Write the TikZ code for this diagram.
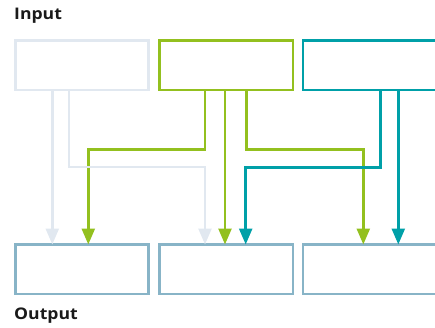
\documentclass[tikz,border=0pt]{standalone}
\usepackage{fontspec}
\newfontfamily\lblfont[FakeStretch=1.1]{Open Sans}
\usetikzlibrary{arrows.meta}
\definecolor{lgray}{HTML}{E1E8F0}
\definecolor{lgreen}{HTML}{93C01F}
\definecolor{lteal}{HTML}{00A0A8}
\definecolor{outc}{HTML}{88B4C7}
\definecolor{txt}{HTML}{1A1A1A}
\begin{document}
\begin{tikzpicture}[x=1pt,y=-1pt,
  box/.style={draw,line width=2.5pt,rectangle,inner sep=0pt,outer sep=0pt,minimum width=133.4pt,minimum height=49.5pt},
  conn/.style={line width=2.5pt,-{Triangle[length=16pt,width=13pt]}},
  lbl/.style={inner sep=0pt,anchor=base west,text=txt,font=\lblfont\bfseries\fontsize{16pt}{18pt}\selectfont}]
\useasboundingbox (0,0) rectangle (435,327);
\clip (0,0) rectangle (435,327);
% input boxes
\node[box,draw=lgray]  (in1) at (82,65.25) {};
\node[box,draw=lgreen] (in2) at (226.1,65.25) {};
\node[box,draw=lteal]  (in3) at (369.9,65.25) {};
% output boxes
\node[box,draw=outc] (out1) at (82,269.25) {};
\node[box,draw=outc] (out2) at (226.1,269.25) {};
\node[box,draw=outc] (out3) at (369.9,269.25) {};
% labels
\node[lbl] (inlbl) at (14,19) {Input};
\node[lbl] (outlbl) at (14,319) {Output};
% green connectors
\draw[conn,lgreen] ([xshift=-21.1pt]in2.south) |- ++(0,59.3) -| ([xshift=6.3pt]out1.north);
\draw[conn,lgreen] ([xshift=-1.1pt]in2.south) -- ([xshift=-1.1pt]out2.north);
\draw[conn,lgreen] ([xshift=20.6pt]in2.south) |- ++(0,59.3) -| ([xshift=-6.6pt]out3.north);
% light connectors
\draw[conn,lgray] ([xshift=-29.7pt]in1.south) -- ([xshift=-29.7pt]out1.north);
\draw[conn,lgray] ([xshift=-13pt]in1.south) |- ++(0,77) -| ([xshift=-21.1pt]out2.north);
% teal connectors
\draw[conn,lteal] ([xshift=10.8pt]in3.south) |- ++(0,77.5) -| ([xshift=19.6pt]out2.north);
\draw[conn,lteal] ([xshift=28.4pt]in3.south) -- ([xshift=28.4pt]out3.north);
\end{tikzpicture}
\end{document}
